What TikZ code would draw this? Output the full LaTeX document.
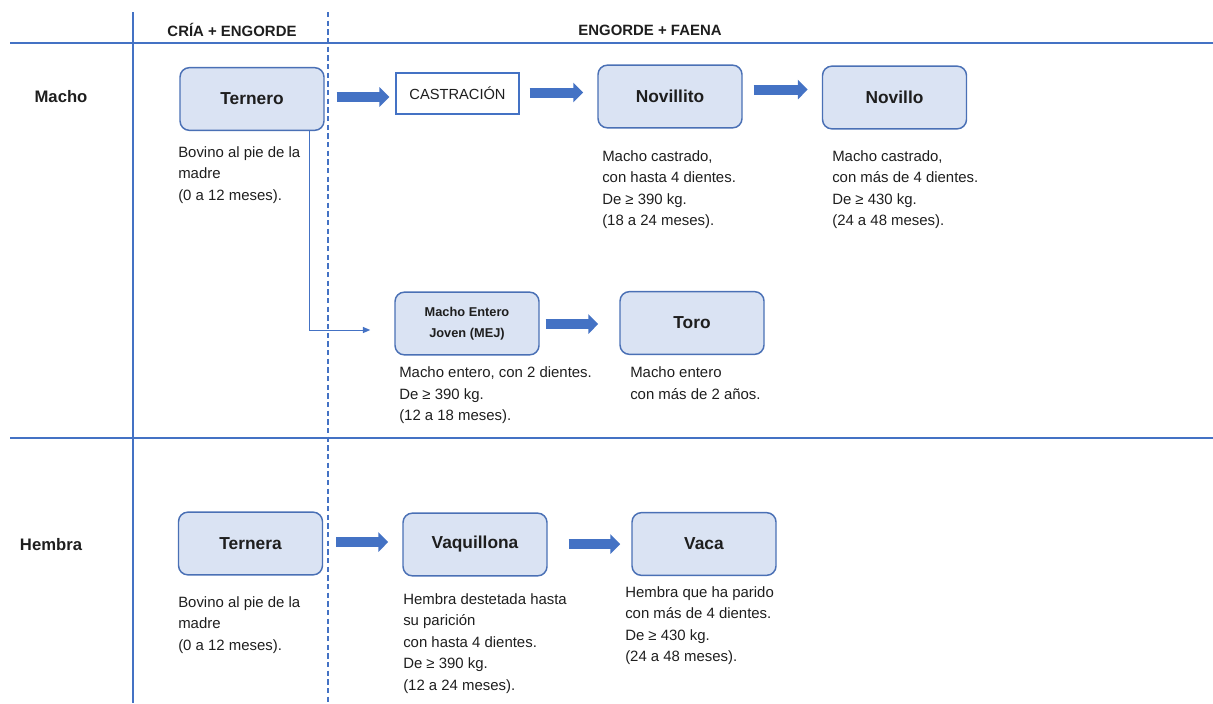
\documentclass[tikz,border=0pt]{standalone}
\usepackage{fontspec}
\setmainfont{Liberation Sans}
\usetikzlibrary{arrows.meta,calc}
\definecolor{acc}{HTML}{4472C4}
\definecolor{boxfill}{HTML}{DAE3F3}
\definecolor{boxline}{HTML}{4A70B5}
\definecolor{txt}{HTML}{1E1E1E}
\begin{document}
\begin{tikzpicture}[x=0.75pt,y=-0.75pt,
  stage/.style={draw=boxline, line width=1.1pt, fill=boxfill, rounded corners=7pt,
    minimum width=108pt, minimum height=47pt, inner sep=0pt, align=center,
    text=txt, font=\fontsize{13}{15}\selectfont\bfseries},
  castbox/.style={draw=acc, line width=0.9pt, fill=white, minimum width=92.25pt,
    minimum height=30.75pt, inner sep=0pt, text=txt, font=\fontsize{11}{13}\selectfont},
  desc/.style={anchor=base west, align=left, inner sep=0pt, text=txt,
    font=\fontsize{11.2}{16.1}\selectfont},
  head/.style={inner sep=0pt, text=txt, font=\fontsize{11.2}{13}\selectfont\bfseries},
  rowlab/.style={inner sep=0pt, text=txt, font=\fontsize{12.5}{14}\selectfont\bfseries},
  barrow/.style={draw=acc, line width=7.5pt, -{Triangle[length=7.5pt,width=14.5pt]}},
  thin/.style={draw=acc, line width=0.75pt, -{Triangle[length=5.5pt,width=4.5pt]}},
  grid/.style={draw=acc, line width=0.9pt}
]
\useasboundingbox (0,0) rectangle (1213,703);

% grid lines
\draw[grid] (133,12) -- (133,703);
\draw[grid, dash pattern=on 4pt off 2.5pt] (328,12) -- (328,703);
\draw[grid] (10,43) -- (1213,43);
\draw[grid] (10,438) -- (1213,438);

% headers
\node[head] (h1) at (232,30) {CRÍA + ENGORDE};
\node[head] (h2) at (650,30) {ENGORDE + FAENA};
\node[rowlab] (macho) at (61,97) {Macho};
\node[rowlab] (hembra) at (51,545) {Hembra};

% boxes
\node[stage] (tern) at (252,99) {Ternero};
\node[castbox] (cast) at (457.5,93.5) {CASTRACIÓN};
\node[stage] (novillito) at (670,96.5) {Novillito};
\node[stage] (novillo) at (894.5,97.5) {Novillo};
\node[stage, font=\fontsize{9.6}{15.75}\selectfont\bfseries] (mej) at (467,323.5) {Macho Entero\\Joven (MEJ)};
\node[stage] (toro) at (692,323) {Toro};
\node[stage] (ternera) at (250.5,543.5) {Ternera};
\node[stage] (vaq) at (475,544.5) {Vaquillona};
\node[stage] (vaca) at (704,544) {Vaca};

% descriptions (anchored at the baseline of their last line)
\node[desc] (dtern) at (178,200) {Bovino al pie de la\\madre\\(0 a 12 meses).};
\node[desc] (dnovillito) at (602,225.5) {Macho castrado,\\con hasta 4 dientes.\\De ≥ 390 kg.\\(18 a 24 meses).};
\node[desc] (dnovillo) at (832,225.5) {Macho castrado,\\con más de 4 dientes.\\De ≥ 430 kg.\\(24 a 48 meses).};
\node[desc] (dmej) at (399,420.5) {Macho entero, con 2 dientes.\\De ≥ 390 kg.\\(12 a 18 meses).};
\node[desc] (dtoro) at (630,399) {Macho entero\\con más de 2 años.};
\node[desc] (dternera) at (178,650) {Bovino al pie de la\\madre\\(0 a 12 meses).};
\node[desc] (dvaq) at (403,690) {Hembra destetada hasta\\su parición\\con hasta 4 dientes.\\De ≥ 390 kg.\\(12 a 24 meses).};
\node[desc] (dvaca) at (625,661.5) {Hembra que ha parido\\con más de 4 dientes.\\De ≥ 430 kg.\\(24 a 48 meses).};

% block arrows
\draw[barrow] ($(tern.east)+(12,-2)$) -- ($(cast.west |- tern.east)+(-6,-2)$);
\draw[barrow] ($(cast.east)+(10,-1)$) -- ($(novillito.west |- cast.east)+(-14,-1)$);
\draw[barrow] ($(novillito.east)+(11,-7)$) -- ($(novillo.west |- novillito.east)+(-14,-7)$);
\draw[barrow] ($(mej.east)+(6,0.5)$) -- ($(toro.west |- mej.east)+(-21,0.5)$);
\draw[barrow] ($(ternera.east)+(13,-1.5)$) -- ($(vaq.west |- ternera.east)+(-14,-1.5)$);
\draw[barrow] ($(vaq.east)+(21,-0.5)$) -- ($(vaca.west |- vaq.east)+(-11,-0.5)$);

% thin connector
\draw[thin] ($(tern.south east)+(-15,0)$) |- ($(mej.west)+(-24,6.5)$);
\end{tikzpicture}
\end{document}
